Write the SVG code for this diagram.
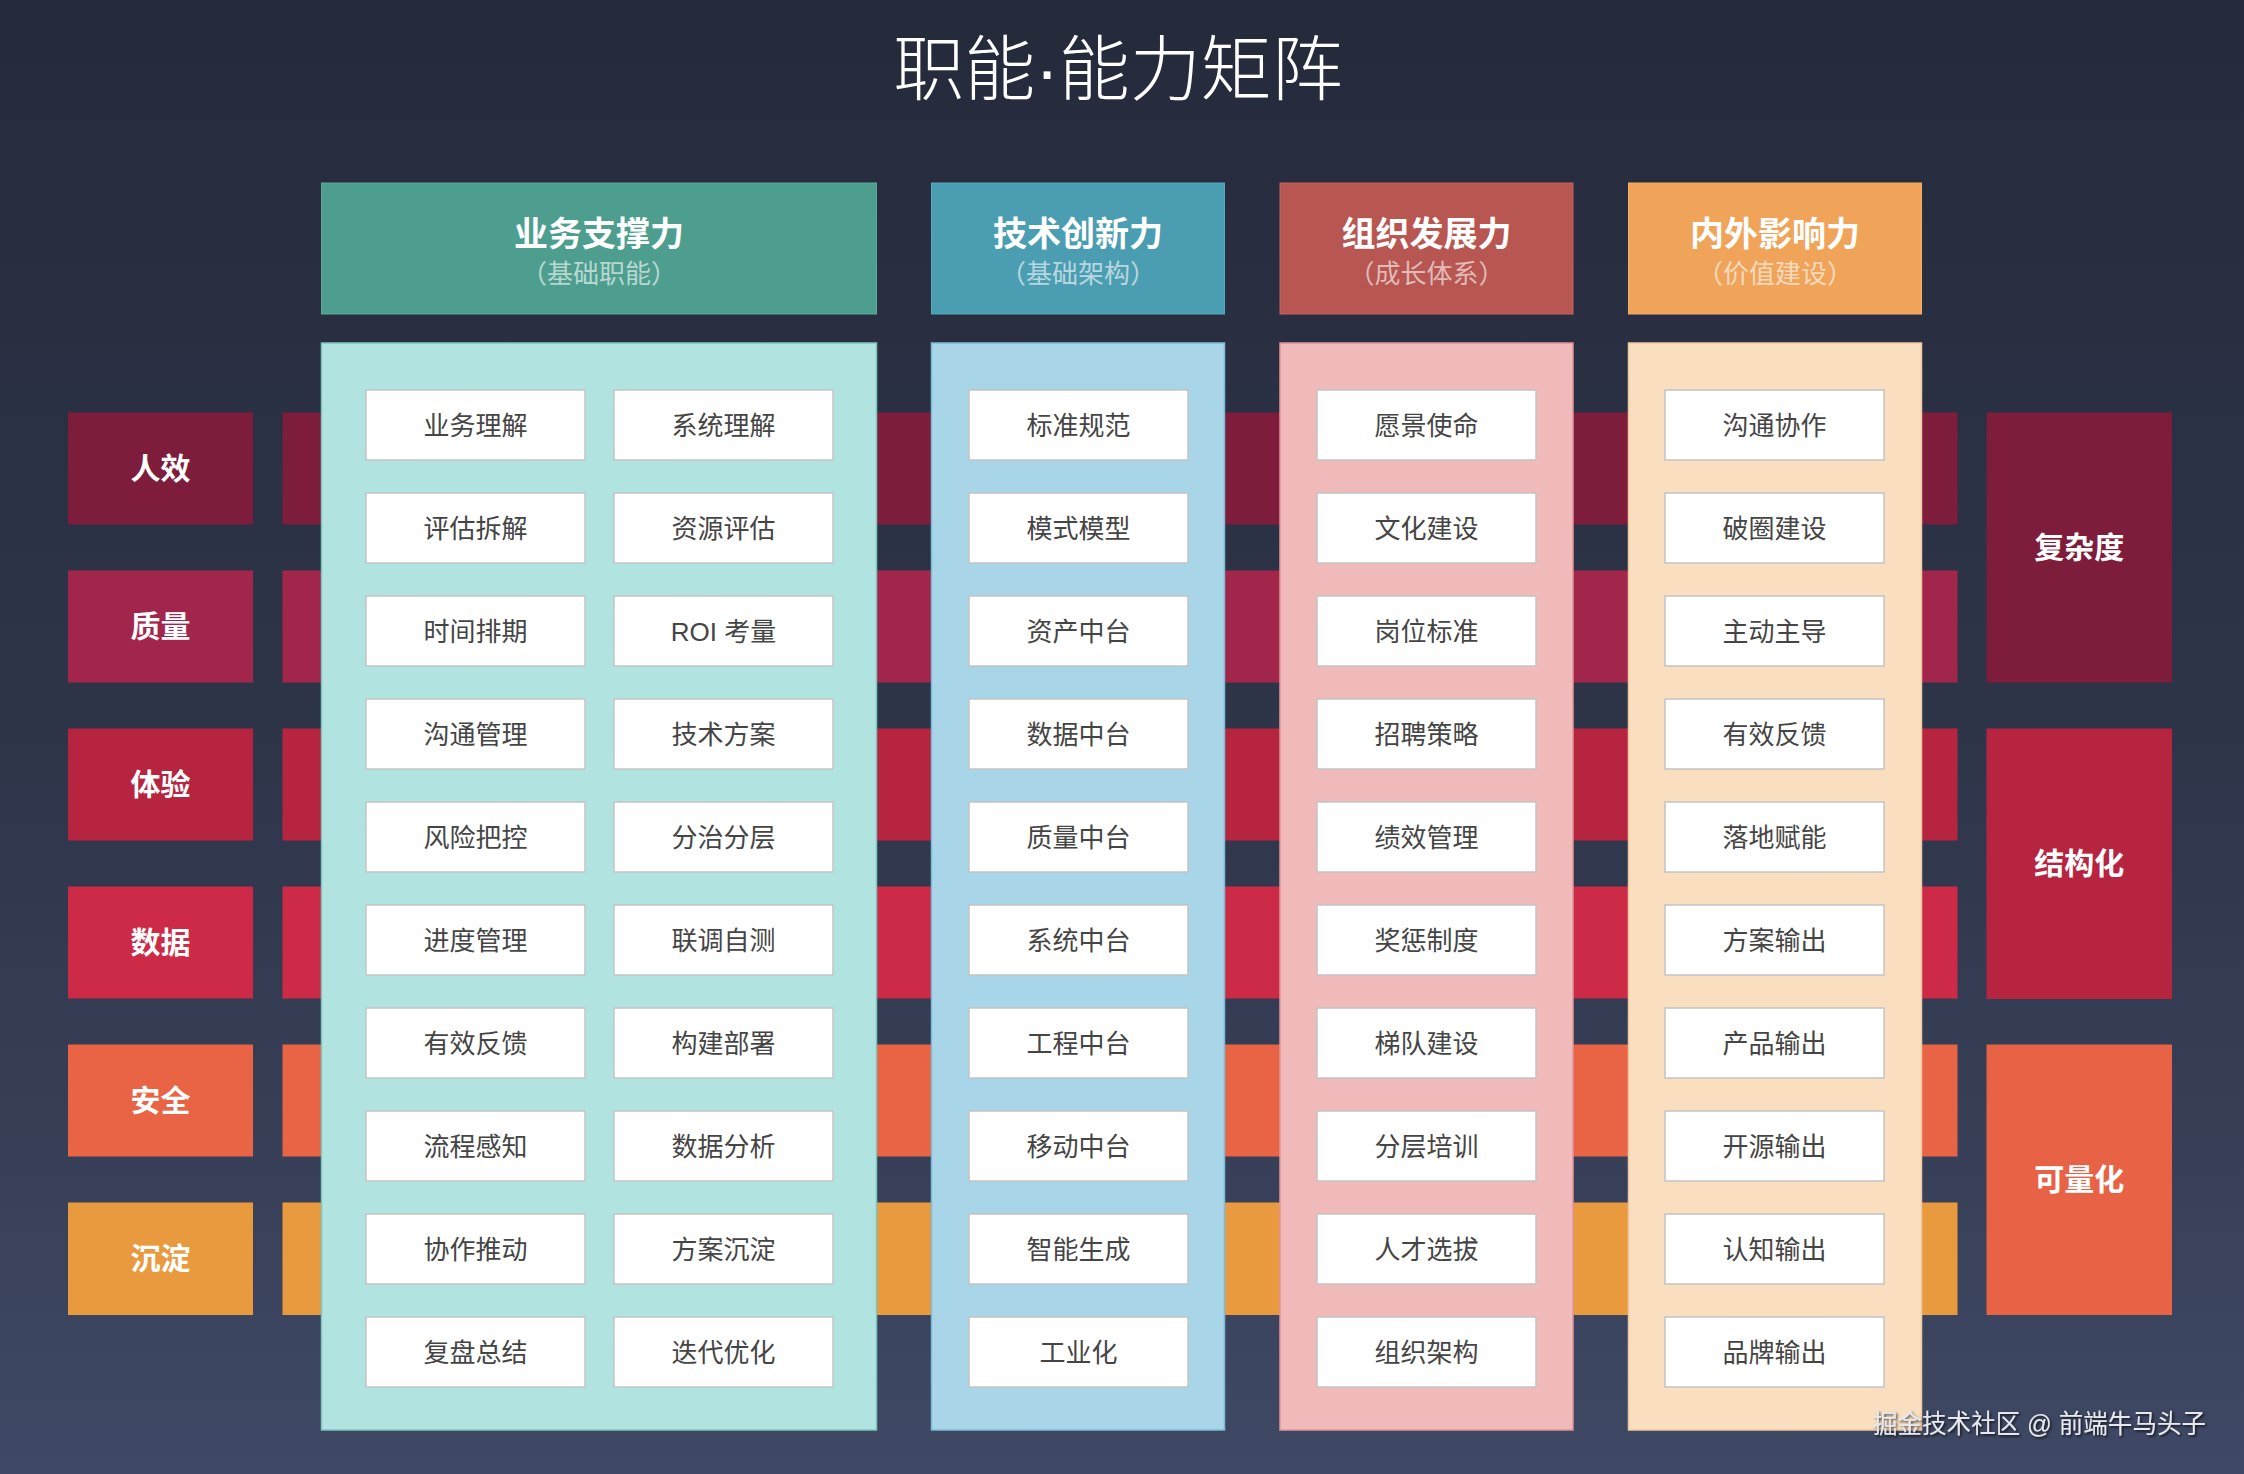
<svg xmlns="http://www.w3.org/2000/svg" width="2244" height="1474" viewBox="0 0 2244 1474">
<defs>
<linearGradient id="bg" x1="0" y1="0" x2="0" y2="1">
<stop offset="0" stop-color="#252a3b"/>
<stop offset="0.5" stop-color="#2e3549"/>
<stop offset="1" stop-color="#3f4864"/>
</linearGradient>
<filter id="tsh" x="-5%" y="-20%" width="110%" height="150%">
<feDropShadow dx="1.5" dy="1.5" stdDeviation="0.8" flood-color="#000" flood-opacity="0.7"/>
</filter>
</defs>
<style>
text{font-family:'Liberation Sans','Noto Sans CJK SC',sans-serif;text-anchor:middle}
.title{font-size:71px;fill:#ffffff;font-weight:300}
.hd{font-size:34px;font-weight:bold;fill:#ffffff}
.sub{font-size:26px;fill:#ffffff;fill-opacity:0.6}
.lab{font-size:30px;font-weight:bold;fill:#ffffff}
.cell rect{fill:#ffffff;stroke:#c4c4c4;stroke-width:1.5}
.cell text{font-size:26px;fill:#454545}
.wm{font-size:26px;fill:#e6e8ee;text-anchor:start}
</style>
<rect x="0" y="0" width="2244" height="1474" fill="url(#bg)"/>
<text class="title" x="1118" y="94">职能·能力矩阵</text>

<g id="rows">
<g id="row-renxiao">
<rect x="68" y="412.5" width="185" height="112" fill="#7e1d3b"/>
<rect x="282.5" y="412.5" width="1675" height="112" fill="#7e1d3b"/>
<text class="lab" x="160.5" y="479">人效</text>
</g>
<g id="row-zhiliang">
<rect x="68" y="570.5" width="185" height="112" fill="#a2264b"/>
<rect x="282.5" y="570.5" width="1675" height="112" fill="#a2264b"/>
<text class="lab" x="160.5" y="637">质量</text>
</g>
<g id="row-tiyan">
<rect x="68" y="728.5" width="185" height="112" fill="#b72440"/>
<rect x="282.5" y="728.5" width="1675" height="112" fill="#b72440"/>
<text class="lab" x="160.5" y="795">体验</text>
</g>
<g id="row-shuju">
<rect x="68" y="886.5" width="185" height="112" fill="#cd2a47"/>
<rect x="282.5" y="886.5" width="1675" height="112" fill="#cd2a47"/>
<text class="lab" x="160.5" y="953">数据</text>
</g>
<g id="row-anquan">
<rect x="68" y="1044.5" width="185" height="112" fill="#e96445"/>
<rect x="282.5" y="1044.5" width="1675" height="112" fill="#e96445"/>
<text class="lab" x="160.5" y="1111">安全</text>
</g>
<g id="row-chendian">
<rect x="68" y="1202.5" width="185" height="112.5" fill="#e99a3e"/>
<rect x="282.5" y="1202.5" width="1675" height="112.5" fill="#e99a3e"/>
<text class="lab" x="160.5" y="1269">沉淀</text>
</g>
</g>

<g id="right-labels">
<g id="lab-fuzadu">
<rect x="1986.5" y="412.5" width="185.5" height="270" fill="#7e1d3b"/>
<text class="lab" x="2079.3" y="558">复杂度</text>
</g>
<g id="lab-jiegouhua">
<rect x="1986.5" y="728.5" width="185.5" height="270.5" fill="#b72440"/>
<text class="lab" x="2079.3" y="874">结构化</text>
</g>
<g id="lab-lianghua">
<rect x="1986.5" y="1044.5" width="185.5" height="270.5" fill="#e86345"/>
<text class="lab" x="2079.3" y="1190">可量化</text>
</g>
</g>

<g id="col-yewu">
<rect x="321.5" y="183" width="555" height="131" fill="#4e9e8f" stroke="#5aab9c" stroke-width="1"/>
<text class="hd" x="599" y="246">业务支撑力</text>
<text class="sub" x="599" y="283">（基础职能）</text>
<rect x="321.5" y="343" width="555" height="1087" fill="#b1e4e0" stroke="#7cc6bf" stroke-width="1.5"/>
</g>
<g id="col-jishu">
<rect x="931.5" y="183" width="293" height="131" fill="#4b9db2" stroke="#57a9bd" stroke-width="1"/>
<text class="hd" x="1078" y="246">技术创新力</text>
<text class="sub" x="1078" y="283">（基础架构）</text>
<rect x="931.5" y="343" width="293" height="1087" fill="#a8d5e7" stroke="#7dbcd6" stroke-width="1.5"/>
</g>
<g id="col-zuzhi">
<rect x="1280" y="183" width="293" height="131" fill="#b85651" stroke="#c46560" stroke-width="1"/>
<text class="hd" x="1426.5" y="246">组织发展力</text>
<text class="sub" x="1426.5" y="283">（成长体系）</text>
<rect x="1280" y="343" width="293" height="1087" fill="#f0babb" stroke="#df9599" stroke-width="1.5"/>
</g>
<g id="col-yingxiang">
<rect x="1628.5" y="183" width="293" height="131" fill="#f0a45a" stroke="#f3ae6a" stroke-width="1"/>
<text class="hd" x="1775" y="246">内外影响力</text>
<text class="sub" x="1775" y="283">（价值建设）</text>
<rect x="1628.5" y="343" width="293" height="1087" fill="#f9dec0" stroke="#eec9a0" stroke-width="1.5"/>
</g>

<g id="cells">
<g id="c1a-0" class="cell"><rect x="366" y="390" width="219" height="70"/><text x="475.5" y="434.5">业务理解</text></g>
<g id="c1a-1" class="cell"><rect x="366" y="493" width="219" height="70"/><text x="475.5" y="537.5">评估拆解</text></g>
<g id="c1a-2" class="cell"><rect x="366" y="596" width="219" height="70"/><text x="475.5" y="640.5">时间排期</text></g>
<g id="c1a-3" class="cell"><rect x="366" y="699" width="219" height="70"/><text x="475.5" y="743.5">沟通管理</text></g>
<g id="c1a-4" class="cell"><rect x="366" y="802" width="219" height="70"/><text x="475.5" y="846.5">风险把控</text></g>
<g id="c1a-5" class="cell"><rect x="366" y="905" width="219" height="70"/><text x="475.5" y="949.5">进度管理</text></g>
<g id="c1a-6" class="cell"><rect x="366" y="1008" width="219" height="70"/><text x="475.5" y="1052.5">有效反馈</text></g>
<g id="c1a-7" class="cell"><rect x="366" y="1111" width="219" height="70"/><text x="475.5" y="1155.5">流程感知</text></g>
<g id="c1a-8" class="cell"><rect x="366" y="1214" width="219" height="70"/><text x="475.5" y="1258.5">协作推动</text></g>
<g id="c1a-9" class="cell"><rect x="366" y="1317" width="219" height="70"/><text x="475.5" y="1361.5">复盘总结</text></g>

<g id="c1b-0" class="cell"><rect x="614" y="390" width="219" height="70"/><text x="723.5" y="434.5">系统理解</text></g>
<g id="c1b-1" class="cell"><rect x="614" y="493" width="219" height="70"/><text x="723.5" y="537.5">资源评估</text></g>
<g id="c1b-2" class="cell"><rect x="614" y="596" width="219" height="70"/><text x="723.5" y="640.5">ROI 考量</text></g>
<g id="c1b-3" class="cell"><rect x="614" y="699" width="219" height="70"/><text x="723.5" y="743.5">技术方案</text></g>
<g id="c1b-4" class="cell"><rect x="614" y="802" width="219" height="70"/><text x="723.5" y="846.5">分治分层</text></g>
<g id="c1b-5" class="cell"><rect x="614" y="905" width="219" height="70"/><text x="723.5" y="949.5">联调自测</text></g>
<g id="c1b-6" class="cell"><rect x="614" y="1008" width="219" height="70"/><text x="723.5" y="1052.5">构建部署</text></g>
<g id="c1b-7" class="cell"><rect x="614" y="1111" width="219" height="70"/><text x="723.5" y="1155.5">数据分析</text></g>
<g id="c1b-8" class="cell"><rect x="614" y="1214" width="219" height="70"/><text x="723.5" y="1258.5">方案沉淀</text></g>
<g id="c1b-9" class="cell"><rect x="614" y="1317" width="219" height="70"/><text x="723.5" y="1361.5">迭代优化</text></g>

<g id="c2-0" class="cell"><rect x="969" y="390" width="219" height="70"/><text x="1078.5" y="434.5">标准规范</text></g>
<g id="c2-1" class="cell"><rect x="969" y="493" width="219" height="70"/><text x="1078.5" y="537.5">模式模型</text></g>
<g id="c2-2" class="cell"><rect x="969" y="596" width="219" height="70"/><text x="1078.5" y="640.5">资产中台</text></g>
<g id="c2-3" class="cell"><rect x="969" y="699" width="219" height="70"/><text x="1078.5" y="743.5">数据中台</text></g>
<g id="c2-4" class="cell"><rect x="969" y="802" width="219" height="70"/><text x="1078.5" y="846.5">质量中台</text></g>
<g id="c2-5" class="cell"><rect x="969" y="905" width="219" height="70"/><text x="1078.5" y="949.5">系统中台</text></g>
<g id="c2-6" class="cell"><rect x="969" y="1008" width="219" height="70"/><text x="1078.5" y="1052.5">工程中台</text></g>
<g id="c2-7" class="cell"><rect x="969" y="1111" width="219" height="70"/><text x="1078.5" y="1155.5">移动中台</text></g>
<g id="c2-8" class="cell"><rect x="969" y="1214" width="219" height="70"/><text x="1078.5" y="1258.5">智能生成</text></g>
<g id="c2-9" class="cell"><rect x="969" y="1317" width="219" height="70"/><text x="1078.5" y="1361.5">工业化</text></g>

<g id="c3-0" class="cell"><rect x="1317" y="390" width="219" height="70"/><text x="1426.5" y="434.5">愿景使命</text></g>
<g id="c3-1" class="cell"><rect x="1317" y="493" width="219" height="70"/><text x="1426.5" y="537.5">文化建设</text></g>
<g id="c3-2" class="cell"><rect x="1317" y="596" width="219" height="70"/><text x="1426.5" y="640.5">岗位标准</text></g>
<g id="c3-3" class="cell"><rect x="1317" y="699" width="219" height="70"/><text x="1426.5" y="743.5">招聘策略</text></g>
<g id="c3-4" class="cell"><rect x="1317" y="802" width="219" height="70"/><text x="1426.5" y="846.5">绩效管理</text></g>
<g id="c3-5" class="cell"><rect x="1317" y="905" width="219" height="70"/><text x="1426.5" y="949.5">奖惩制度</text></g>
<g id="c3-6" class="cell"><rect x="1317" y="1008" width="219" height="70"/><text x="1426.5" y="1052.5">梯队建设</text></g>
<g id="c3-7" class="cell"><rect x="1317" y="1111" width="219" height="70"/><text x="1426.5" y="1155.5">分层培训</text></g>
<g id="c3-8" class="cell"><rect x="1317" y="1214" width="219" height="70"/><text x="1426.5" y="1258.5">人才选拔</text></g>
<g id="c3-9" class="cell"><rect x="1317" y="1317" width="219" height="70"/><text x="1426.5" y="1361.5">组织架构</text></g>

<g id="c4-0" class="cell"><rect x="1665" y="390" width="219" height="70"/><text x="1774.5" y="434.5">沟通协作</text></g>
<g id="c4-1" class="cell"><rect x="1665" y="493" width="219" height="70"/><text x="1774.5" y="537.5">破圈建设</text></g>
<g id="c4-2" class="cell"><rect x="1665" y="596" width="219" height="70"/><text x="1774.5" y="640.5">主动主导</text></g>
<g id="c4-3" class="cell"><rect x="1665" y="699" width="219" height="70"/><text x="1774.5" y="743.5">有效反馈</text></g>
<g id="c4-4" class="cell"><rect x="1665" y="802" width="219" height="70"/><text x="1774.5" y="846.5">落地赋能</text></g>
<g id="c4-5" class="cell"><rect x="1665" y="905" width="219" height="70"/><text x="1774.5" y="949.5">方案输出</text></g>
<g id="c4-6" class="cell"><rect x="1665" y="1008" width="219" height="70"/><text x="1774.5" y="1052.5">产品输出</text></g>
<g id="c4-7" class="cell"><rect x="1665" y="1111" width="219" height="70"/><text x="1774.5" y="1155.5">开源输出</text></g>
<g id="c4-8" class="cell"><rect x="1665" y="1214" width="219" height="70"/><text x="1774.5" y="1258.5">认知输出</text></g>
<g id="c4-9" class="cell"><rect x="1665" y="1317" width="219" height="70"/><text x="1774.5" y="1361.5">品牌输出</text></g>
</g>

<g id="connectors"></g>

<text class="wm" x="1873" y="1433" textLength="333" lengthAdjust="spacingAndGlyphs" filter="url(#tsh)">掘金技术社区 @ 前端牛马头子</text>
</svg>
